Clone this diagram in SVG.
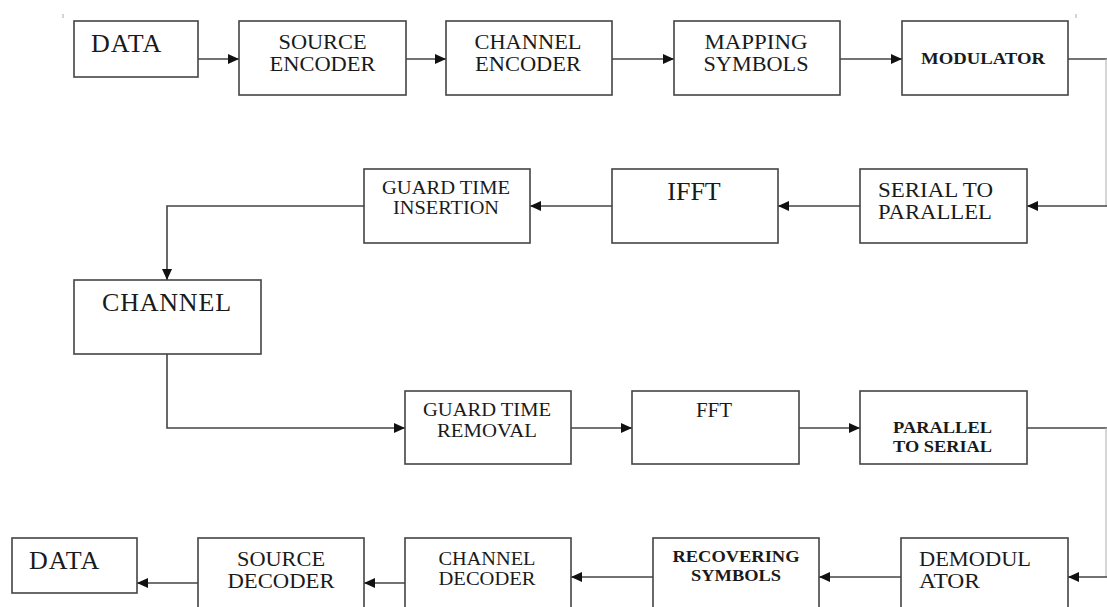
<svg xmlns="http://www.w3.org/2000/svg" width="1107" height="607" viewBox="0 0 1107 607">
<defs>
<marker id="arr" markerUnits="userSpaceOnUse" markerWidth="11" markerHeight="10" refX="11" refY="5" orient="auto">
<path d="M0,0 L11,5 L0,10 z" fill="#111"/>
</marker>
<style>
rect.b{fill:#fff;stroke:#444;stroke-width:1.6}
text{font-family:"Liberation Serif","Times New Roman",serif;fill:#1a1a1a}
.c{text-anchor:middle}
.s21{font-size:20px}
.s20{font-size:19.5px}
.s26{font-size:26px}
.bd{font-size:17.5px;font-weight:bold}
.ln{fill:none;stroke:#444;stroke-width:1.6}
.fa{fill:none;stroke:#bbb;stroke-width:1.2}
</style>
</defs>
<rect width="1107" height="607" fill="#fff"/>
<g id="ticks">
<line x1="63" y1="14" x2="63" y2="18" stroke="#aaa" stroke-width="1"/>
<line x1="1076" y1="14" x2="1076" y2="18" stroke="#aaa" stroke-width="1"/>
</g>
<g id="connectors">
<path class="ln" d="M198,59 H239" marker-end="url(#arr)"/>
<path class="ln" d="M406,59 H446" marker-end="url(#arr)"/>
<path class="ln" d="M612,59 H674" marker-end="url(#arr)"/>
<path class="ln" d="M840,59 H902" marker-end="url(#arr)"/>
<path class="ln" d="M1068,59 H1107"/>
<path class="fa" d="M1106,59 V206"/>
<path class="ln" d="M1107,206 H1027" marker-end="url(#arr)"/>
<path class="ln" d="M860,206 H778" marker-end="url(#arr)"/>
<path class="ln" d="M612,206 H530" marker-end="url(#arr)"/>
<path class="ln" d="M364,206 H167 V280" marker-end="url(#arr)"/>
<path class="ln" d="M167,354 V428 H405" marker-end="url(#arr)"/>
<path class="ln" d="M571,428 H632" marker-end="url(#arr)"/>
<path class="ln" d="M799,428 H860" marker-end="url(#arr)"/>
<path class="ln" d="M1027,428 H1107"/>
<path class="fa" d="M1106,428 V577"/>
<path class="ln" d="M1107,577 H1068" marker-end="url(#arr)"/>
<path class="ln" d="M901,577 H819" marker-end="url(#arr)"/>
<path class="ln" d="M653,577 H571" marker-end="url(#arr)"/>
<path class="ln" d="M405,583 H364" marker-end="url(#arr)"/>
<path class="ln" d="M198,583 H137" marker-end="url(#arr)"/>
</g>
<g id="data_in"><rect class="b" x="74" y="21" width="124" height="56"/><text class="s26" x="91" y="52" letter-spacing="1">DATA</text></g>
<g id="source_encoder"><rect class="b" x="239" y="21" width="167" height="74"/><text class="s21 c" x="322.5" y="49" textLength="88" lengthAdjust="spacingAndGlyphs">SOURCE</text><text class="s21 c" x="322.5" y="71" textLength="106" lengthAdjust="spacingAndGlyphs">ENCODER</text></g>
<g id="channel_encoder"><rect class="b" x="446" y="21" width="166" height="74"/><text class="s21 c" x="528" y="49" textLength="107" lengthAdjust="spacingAndGlyphs">CHANNEL</text><text class="s21 c" x="528" y="71" textLength="106" lengthAdjust="spacingAndGlyphs">ENCODER</text></g>
<g id="mapping_symbols"><rect class="b" x="674" y="21" width="166" height="74"/><text class="s21 c" x="756" y="49" textLength="103" lengthAdjust="spacingAndGlyphs">MAPPING</text><text class="s21 c" x="756" y="71" textLength="105" lengthAdjust="spacingAndGlyphs">SYMBOLS</text></g>
<g id="modulator"><rect class="b" x="902" y="21" width="166" height="74"/><text class="bd c" x="983" y="64" textLength="124" lengthAdjust="spacingAndGlyphs">MODULATOR</text></g>
<g id="serial_to_parallel"><rect class="b" x="860" y="169" width="167" height="74"/><text class="s21" x="878" y="197" textLength="115" lengthAdjust="spacingAndGlyphs">SERIAL TO</text><text class="s21" x="878" y="219" textLength="114" lengthAdjust="spacingAndGlyphs">PARALLEL</text></g>
<g id="ifft"><rect class="b" x="612" y="169" width="166" height="74"/><text class="s26 c" x="694" y="200">IFFT</text></g>
<g id="guard_time_insertion"><rect class="b" x="364" y="169" width="166" height="74"/><text class="s20 c" x="446" y="194" textLength="128" lengthAdjust="spacingAndGlyphs">GUARD TIME</text><text class="s20 c" x="446" y="214" textLength="106" lengthAdjust="spacingAndGlyphs">INSERTION</text></g>
<g id="channel"><rect class="b" x="74" y="280" width="187" height="74"/><text class="s26" x="102" y="311" letter-spacing="0.8">CHANNEL</text></g>
<g id="guard_time_removal"><rect class="b" x="405" y="391" width="166" height="73"/><text class="s20 c" x="487" y="416" textLength="128" lengthAdjust="spacingAndGlyphs">GUARD TIME</text><text class="s20 c" x="487" y="437" textLength="100" lengthAdjust="spacingAndGlyphs">REMOVAL</text></g>
<g id="fft"><rect class="b" x="632" y="391" width="167" height="73"/><text class="c" style="font-size:21px" x="714" y="417">FFT</text></g>
<g id="parallel_to_serial"><rect class="b" x="860" y="391" width="167" height="73"/><text class="bd" x="893" y="433" textLength="99" lengthAdjust="spacingAndGlyphs">PARALLEL</text><text class="bd" x="893" y="452" textLength="99" lengthAdjust="spacingAndGlyphs">TO SERIAL</text></g>
<g id="demodulator"><rect class="b" x="901" y="538" width="167" height="80"/><text class="s21" x="919" y="566" textLength="112" lengthAdjust="spacingAndGlyphs">DEMODUL</text><text class="s21" x="919" y="588" textLength="61" lengthAdjust="spacingAndGlyphs">ATOR</text></g>
<g id="recovering_symbols"><rect class="b" x="653" y="538" width="166" height="80"/><text class="bd c" x="736" y="562" textLength="127" lengthAdjust="spacingAndGlyphs">RECOVERING</text><text class="bd c" x="736" y="581" textLength="90" lengthAdjust="spacingAndGlyphs">SYMBOLS</text></g>
<g id="channel_decoder"><rect class="b" x="405" y="538" width="166" height="80"/><text class="s20 c" x="487" y="565" textLength="97" lengthAdjust="spacingAndGlyphs">CHANNEL</text><text class="s20 c" x="487" y="585" textLength="97" lengthAdjust="spacingAndGlyphs">DECODER</text></g>
<g id="source_decoder"><rect class="b" x="198" y="538" width="166" height="80"/><text class="s21 c" x="281" y="566" textLength="88" lengthAdjust="spacingAndGlyphs">SOURCE</text><text class="s21 c" x="281" y="588" textLength="107" lengthAdjust="spacingAndGlyphs">DECODER</text></g>
<g id="data_out"><rect class="b" x="12" y="538" width="125" height="55"/><text class="s26" x="29" y="569" letter-spacing="1">DATA</text></g>
</svg>
